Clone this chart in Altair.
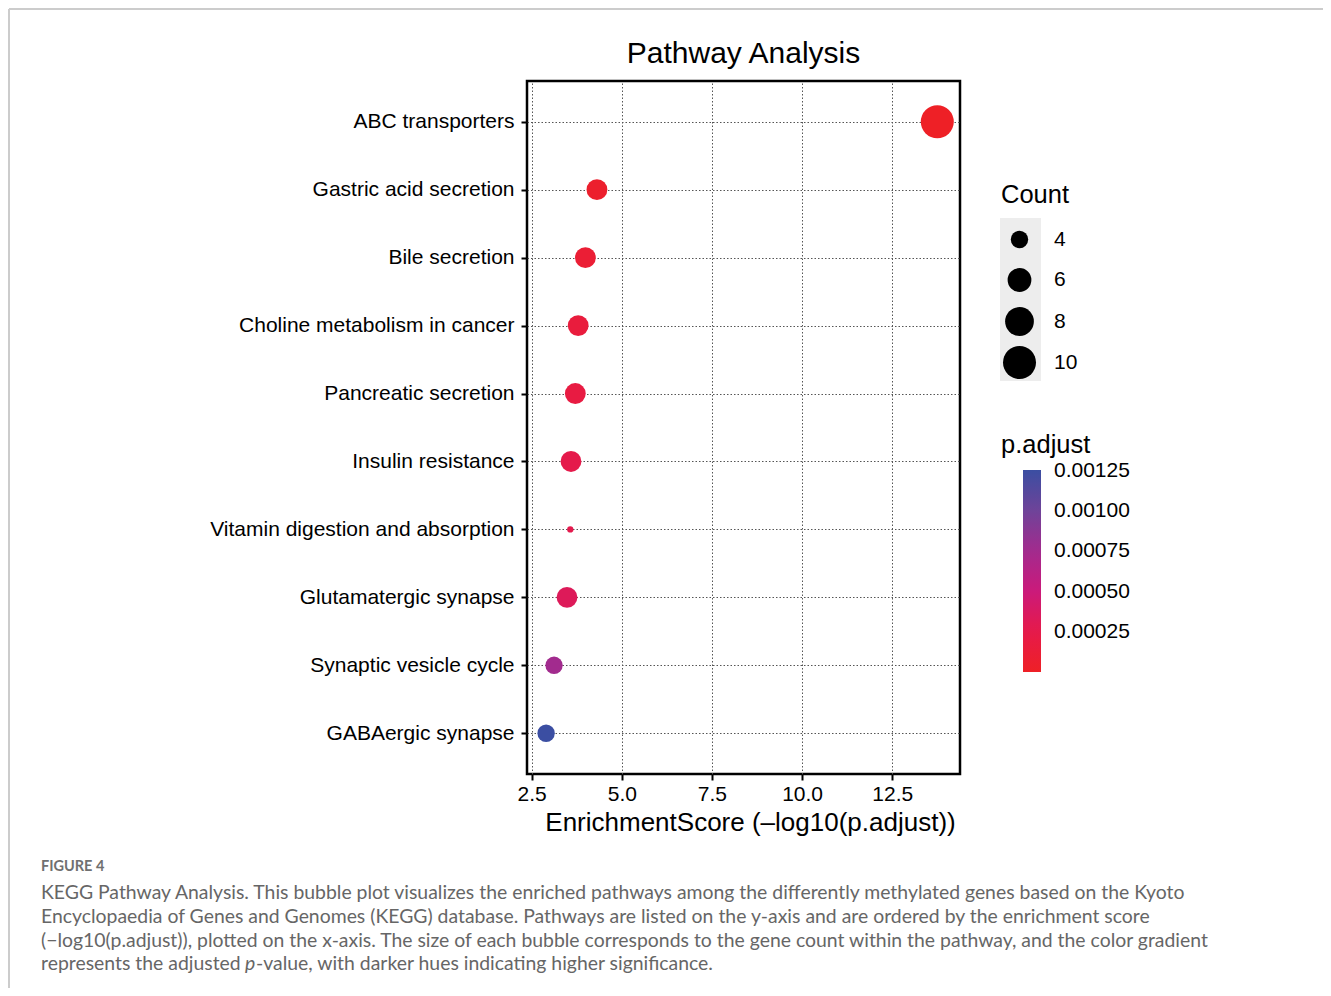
import altair as alt
import pandas as pd

# ---- data ----
pathways = [
    "ABC transporters",
    "Gastric acid secretion",
    "Bile secretion",
    "Choline metabolism in cancer",
    "Pancreatic secretion",
    "Insulin resistance",
    "Vitamin digestion and absorption",
    "Glutamatergic synapse",
    "Synaptic vesicle cycle",
    "GABAergic synapse",
]
enrichment_score = [13.75, 4.31, 3.99, 3.79, 3.71, 3.59, 3.57, 3.48, 3.12, 2.90]
gene_count = [10, 5, 5, 5, 5, 5, 2, 5, 4, 4]
p_adjust = [1.8e-14, 4.9e-05, 1.02e-04, 1.62e-04, 1.95e-04, 2.57e-04, 2.69e-04, 3.31e-04, 7.59e-04, 1.255e-03]
count_ticks = [4, 6, 8, 10]
padj_ticks = [0.00025, 0.00050, 0.00075, 0.00100, 0.00125]
x_ticks = [2.5, 5.0, 7.5, 10.0, 12.5]

# colour ramp (low p.adjust -> high p.adjust) sampled from the colour bar
ramp_colors = ["#EE2026", "#E61A4A", "#CB1A7A", "#A32A8E", "#6E4399", "#3B4EA2"]

df = pd.DataFrame({
    "Description": pathways,
    "EnrichmentScore": enrichment_score,
    "Count": gene_count,
    "padj": p_adjust,
})

lo, hi = min(p_adjust), max(p_adjust)
ramp_domain = [lo + (hi - lo) * i / (len(ramp_colors) - 1) for i in range(len(ramp_colors))]

FONT = "Liberation Sans"
CAP_FONT = "Lato"
W, H = 433, 693

points = alt.Chart(df).mark_circle(opacity=1, strokeWidth=0).encode(
    x=alt.X(
        "EnrichmentScore:Q",
        scale=alt.Scale(domain=[2.37, 14.38], nice=False, zero=False),
        axis=alt.Axis(
            values=x_ticks, format=".1f",
            title="EnrichmentScore (\u2013log10(p.adjust))",
            grid=True, gridDash=[1.5, 2], gridColor="#555555", gridWidth=1,
            domain=False, tickColor="black", tickWidth=2, tickSize=6,
            labelFont=FONT, labelFontSize=21, labelColor="black", labelPadding=3,
            titleFont=FONT, titleFontSize=26, titleFontWeight="normal",
            titleColor="black", titlePadding=5, titleX=223,
        ),
    ),
    y=alt.Y(
        "Description:N",
        sort=pathways,
        scale=alt.Scale(type="point", padding=0.6),
        axis=alt.Axis(
            title=None,
            grid=True, gridDash=[1.5, 2], gridColor="#555555", gridWidth=1,
            domain=False, tickColor="black", tickWidth=2, tickSize=6,
            labelFont=FONT, labelFontSize=21, labelColor="black",
            labelPadding=7, labelLimit=450,
        ),
    ),
    size=alt.Size(
        "Count:Q",
        scale=alt.Scale(domain=[min(gene_count), max(gene_count)], range=[40, 1089], zero=False),
        legend=alt.Legend(
            title=None, orient="none", legendX=476, legendY=148,
            values=count_ticks, symbolType="circle",
            symbolFillColor="black", symbolStrokeWidth=0, symbolOpacity=1,
            labelFont=FONT, labelFontSize=21, labelColor="black",
            labelOffset=18, rowPadding=6, padding=0, gridAlign="all",
        ),
    ),
    color=alt.Color(
        "padj:Q",
        scale=alt.Scale(domain=ramp_domain, range=ramp_colors, interpolate="rgb"),
        legend=alt.Legend(
            title=None, orient="none", legendX=496, legendY=389,
            direction="vertical", gradientLength=202, gradientThickness=18,
            gradientStrokeWidth=0, values=padj_ticks, format=".5f",
            labelFont=FONT, labelFontSize=21, labelColor="black",
            labelOffset=13, labelOverlap=False, padding=0,
        ),
    ),
)

one = alt.Data(values=[{}])


def text(t, x, y, size, font=FONT, color="black", align="left", **kw):
    return alt.Chart(one).mark_text(
        text=t, font=font, fontSize=size, color=color, align=align,
        baseline="middle", **kw
    ).encode(x=alt.value(x), y=alt.value(y))


key_bg = alt.Chart(one).mark_rect(color="#EDEDED").encode(
    x=alt.value(473), x2=alt.value(514), y=alt.value(137), y2=alt.value(300)
)

frame_top = alt.Chart(one).mark_rule(color="#CCCCCC", strokeWidth=2).encode(
    x=alt.value(-518), x2=alt.value(805), y=alt.value(-72)
)
frame_left = alt.Chart(one).mark_rule(color="#CCCCCC", strokeWidth=2).encode(
    x=alt.value(-518), y=alt.value(-72), y2=alt.value(910)
)

title = text("Pathway Analysis", W / 2, -27, 30, align="center")
count_title = text("Count", 474, 114, 25.5)
padj_title = text("p.adjust", 474, 364, 25.5)

CAP = "#666666"
CS = 19.4
fig_label = text("FIGURE 4", -486, 786, 14.5, font=CAP_FONT, color="#707070", fontWeight="bold")
cap1 = text("KEGG Pathway Analysis. This bubble plot visualizes the enriched pathways among the differently methylated genes based on the Kyoto",
            -486, 812, CS, font=CAP_FONT, color=CAP)
cap2 = text("Encyclopaedia of Genes and Genomes (KEGG) database. Pathways are listed on the y-axis and are ordered by the enrichment score",
            -486, 836, CS, font=CAP_FONT, color=CAP)
cap3 = text("(\u2212log10(p.adjust)), plotted on the x-axis. The size of each bubble corresponds to the gene count within the pathway, and the color gradient",
            -486, 860, CS, font=CAP_FONT, color=CAP)
cap4a = text("represents the adjusted", -486, 883, CS, font=CAP_FONT, color=CAP)
cap4b = text("p", -282, 883, CS, font=CAP_FONT, color=CAP, fontStyle="italic")
cap4c = text("-value, with darker hues indicating higher significance.", -271, 883, CS, font=CAP_FONT, color=CAP)

chart = alt.layer(
    frame_top, frame_left, key_bg, points,
    title, count_title, padj_title,
    fig_label, cap1, cap2, cap3, cap4a, cap4b, cap4c,
).properties(
    width=W, height=H,
    padding={"left": 519, "top": 73, "right": 363, "bottom": 214},
    autosize=alt.AutoSizeParams(type="none"),
    background="white",
).configure_view(
    stroke="black", strokeWidth=2.5
)

chart.save("out.html", embed_options={"renderer": "svg", "actions": False})
